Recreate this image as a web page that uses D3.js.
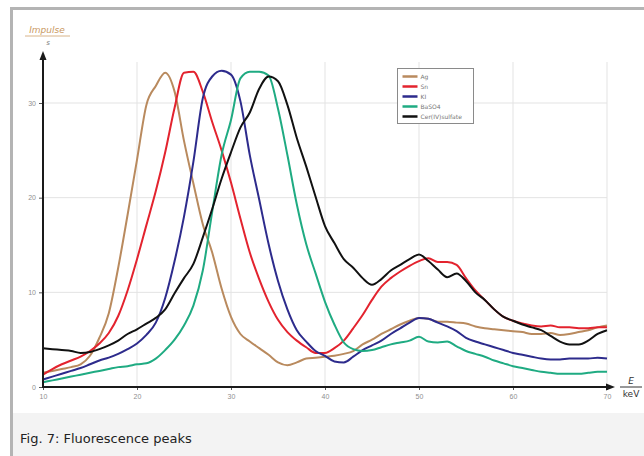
<!DOCTYPE html>
<html>
<head>
<meta charset="utf-8" />
<title>Fluorescence peaks</title>
<script src="https://cdn.jsdelivr.net/npm/d3@7/dist/d3.min.js"></script>
<style>
    html, body { margin: 0; padding: 0; background: #fff; }
    svg { display: block; font-family: "DejaVu Sans", sans-serif; }
    .grid line { stroke: #e3e3e3; stroke-width: 1; }
    .tick text { fill: #8f8f8f; font-size: 7px; }
    .tick line { stroke: #555; }
    .curve { fill: none; stroke-width: 2; stroke-linejoin: round; }
</style>
</head>
<body>
<div id="chart"></div>
<script>
    // energy in keV, impulse per second
    const energy = d3.range(10, 71);
    const ag = [1.5, 1.7, 1.9, 2.1, 2.4, 3.3, 5.2, 7.8, 12.6, 18.2, 24.0, 29.8, 31.8, 33.2, 31.2, 26.0, 21.5, 17.2, 14.2, 10.4,
        7.4, 5.6, 4.8, 4.1, 3.4, 2.6, 2.3, 2.6, 3.0, 3.1, 3.2, 3.3, 3.5, 3.8, 4.5, 5.0, 5.6, 6.1, 6.6, 7.0,
        7.3, 7.2, 6.9, 6.9, 6.8, 6.7, 6.4, 6.2, 6.1, 6.0, 5.9, 5.8, 5.6, 5.6, 5.7, 5.5, 5.6, 5.8, 6.0, 6.3, 6.5];
    const sn = [1.3, 1.9, 2.4, 2.8, 3.2, 3.8, 4.6, 5.7, 7.5, 10.2, 13.5, 17.1, 20.7, 24.8, 29.5, 33.2, 33.3, 31.2, 28.0, 25.0,
        21.6, 17.8, 14.2, 11.4, 9.0, 7.1, 5.8, 4.9, 4.2, 3.6, 3.6, 4.1, 4.9, 6.2, 7.6, 9.2, 10.6, 11.5, 12.2, 12.8,
        13.3, 13.6, 13.2, 13.2, 12.9, 11.5, 10.2, 9.2, 8.2, 7.4, 7.0, 6.7, 6.5, 6.4, 6.5, 6.3, 6.3, 6.2, 6.2, 6.3, 6.3];
    const ki = [0.8, 1.1, 1.4, 1.7, 2.0, 2.4, 2.8, 3.1, 3.5, 4.0, 4.6, 5.5, 6.8, 9.4, 13.3, 18.0, 23.8, 30.5, 32.8, 33.4,
        33.0, 30.2, 24.5, 19.8, 15.1, 11.2, 8.2, 6.0, 4.8, 3.8, 3.3, 2.7, 2.6, 3.2, 3.9, 4.4, 4.9, 5.6, 6.2, 6.8,
        7.3, 7.2, 6.8, 6.4, 5.9, 5.2, 4.8, 4.5, 4.2, 3.9, 3.6, 3.4, 3.2, 3.0, 2.9, 2.9, 3.0, 3.0, 3.0, 3.1, 3.0];
    const baso4 = [0.5, 0.7, 0.9, 1.1, 1.3, 1.5, 1.7, 1.9, 2.1, 2.2, 2.4, 2.5, 3.0, 3.9, 5.0, 6.5, 8.6, 12.3, 18.5, 24.5,
        28.2, 32.6, 33.3, 33.3, 32.9, 29.4, 24.5, 19.3, 15.1, 12.0, 9.0, 6.6, 4.7, 4.0, 3.8, 3.9, 4.2, 4.5, 4.7, 4.9,
        5.3, 4.8, 4.7, 4.8, 4.3, 3.8, 3.5, 3.2, 2.8, 2.5, 2.2, 2.0, 1.8, 1.6, 1.5, 1.4, 1.4, 1.4, 1.5, 1.6, 1.6];
    const cer = [4.1, 4.0, 3.9, 3.8, 3.6, 3.7, 4.0, 4.4, 4.9, 5.6, 6.1, 6.7, 7.3, 8.2, 9.9, 11.5, 13.0, 15.8, 18.8, 22.0,
        24.8, 27.4, 29.0, 31.5, 32.8, 32.3, 29.8, 26.3, 23.3, 20.1, 17.0, 15.2, 13.5, 12.6, 11.5, 10.8, 11.4, 12.3, 12.9, 13.5,
        14.0, 13.3, 12.4, 11.6, 12.0, 11.2, 10.0, 9.2, 8.2, 7.4, 7.0, 6.6, 6.3, 6.0, 5.4, 4.8, 4.5, 4.5, 4.9, 5.6, 6.0];

    const seriesNames = ["Ag", "Sn", "KI", "BaSO4", "Cer(IV)sulfate"];
    const seriesValues = [ag, sn, ki, baso4, cer];
    const seriesColors = ["#b98a5e", "#e3232e", "#2d2b8c", "#1fab82", "#111111"];
    const xTicks = [10, 20, 30, 40, 50, 60, 70];
    const yTicks = [0, 10, 20, 30];

    const W = 644, H = 456;
    const svg = d3.select("#chart").append("svg")
        .attr("width", W)
        .attr("height", H);

    // frame + caption band
    svg.append("rect").attr("x", 13).attr("y", 413).attr("width", W).attr("height", 50).attr("fill", "#f3f3f3");
    svg.append("rect").attr("x", 11.5).attr("y", 8.5).attr("width", 700).attr("height", 500)
        .attr("fill", "none").attr("stroke", "#b4b4b4").attr("stroke-width", 3);
    svg.append("text").attr("x", 20).attr("y", 443)
        .attr("font-size", 13).attr("fill", "#222")
        .text("Fig. 7: Fluorescence peaks");

    const x = d3.scaleLinear().domain([10, 70]).range([43, 607]);
    const y = d3.scaleLinear().domain([0, 30]).range([387, 103]);

    // grid
    const grid = svg.append("g").attr("class", "grid");
    grid.selectAll(".v").data(xTicks.slice(1)).enter().append("line")
        .attr("x1", d => x(d)).attr("x2", d => x(d))
        .attr("y1", 62).attr("y2", y(0));
    grid.selectAll(".h").data(yTicks.slice(1)).enter().append("line")
        .attr("x1", x(10)).attr("x2", x(70))
        .attr("y1", d => y(d)).attr("y2", d => y(d));

    // axes
    const xAxis = svg.append("g").attr("transform", `translate(0,${y(0)})`)
        .call(d3.axisBottom(x).tickValues(xTicks).tickSize(3).tickPadding(4));
    const yAxis = svg.append("g").attr("transform", `translate(${x(10)},0)`)
        .call(d3.axisLeft(y).tickValues(yTicks).tickSize(4).tickPadding(3));
    xAxis.select(".domain").remove();
    yAxis.select(".domain").remove();

    // curves
    const line = d3.line()
        .x((d, i) => x(energy[i]))
        .y(d => y(d))
        .curve(d3.curveMonotoneX);

    svg.append("g").selectAll("path").data(seriesValues).enter().append("path")
        .attr("class", "curve")
        .attr("stroke", (d, i) => seriesColors[i])
        .attr("d", line);

    // axis lines with arrows
    svg.append("line").attr("x1", x(10)).attr("x2", x(10)).attr("y1", y(0) + 1).attr("y2", 58)
        .attr("stroke", "#1a1a1a").attr("stroke-width", 2);
    svg.append("path").attr("d", `M${x(10) - 3.5},60 L${x(10)},51 L${x(10) + 3.5},60 Z`).attr("fill", "#1a1a1a");
    svg.append("line").attr("x1", x(10) - 1).attr("x2", 608).attr("y1", y(0)).attr("y2", y(0))
        .attr("stroke", "#1a1a1a").attr("stroke-width", 2);
    svg.append("path").attr("d", `M606,${y(0) - 3.5} L615,${y(0)} L606,${y(0) + 3.5} Z`).attr("fill", "#1a1a1a");

    // axis titles
    svg.append("text").attr("x", 47).attr("y", 33).attr("text-anchor", "middle")
        .attr("font-size", 9).attr("font-style", "italic").attr("fill", "#c9985f")
        .text("Impulse");
    svg.append("line").attr("x1", 25).attr("x2", 70).attr("y1", 36).attr("y2", 36)
        .attr("stroke", "#d8b48a").attr("stroke-width", 1);
    svg.append("text").attr("x", 48).attr("y", 45).attr("text-anchor", "middle")
        .attr("font-size", 7).attr("font-style", "italic").attr("fill", "#777")
        .text("s");

    svg.append("text").attr("x", 631).attr("y", 384).attr("text-anchor", "middle")
        .attr("font-size", 9).attr("font-style", "italic").attr("fill", "#333")
        .text("E");
    svg.append("line").attr("x1", 620).attr("x2", 642).attr("y1", 387).attr("y2", 387)
        .attr("stroke", "#333").attr("stroke-width", 1);
    svg.append("text").attr("x", 631).attr("y", 397).attr("text-anchor", "middle")
        .attr("font-size", 9).attr("fill", "#333")
        .text("keV");

    // legend
    const legend = svg.append("g").attr("transform", "translate(397.5,68.5)");
    legend.append("rect").attr("width", 76).attr("height", 55)
        .attr("fill", "#fff").attr("stroke", "#8a8a8a");
    const item = legend.selectAll(".item").data(seriesNames).enter().append("g")
        .attr("transform", (d, i) => `translate(0,${8 + i * 10})`);
    item.append("line").attr("x1", 5).attr("x2", 20)
        .attr("stroke", (d, i) => seriesColors[i]).attr("stroke-width", 2.5);
    item.append("text").attr("x", 23).attr("dy", "0.35em")
        .attr("font-size", 6).attr("fill", "#777")
        .text(d => d);
</script>
</body>
</html>
